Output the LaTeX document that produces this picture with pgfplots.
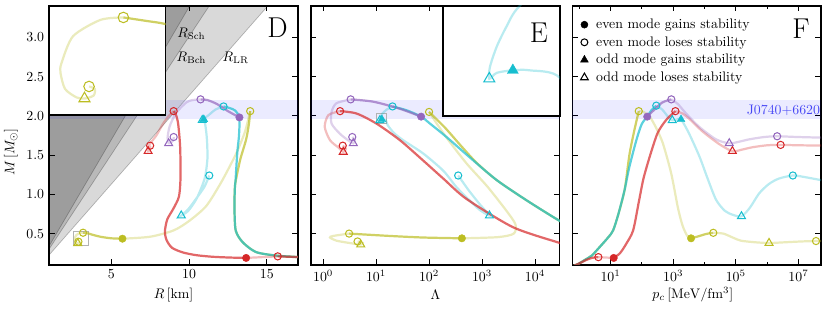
\documentclass[border=0pt]{standalone}
\usepackage{pgfplots}
\pgfplotsset{compat=1.18}
\definecolor{tred}{HTML}{D62728}
\definecolor{tpurple}{HTML}{9467BD}
\definecolor{tcyan}{HTML}{17BECF}
\definecolor{tolive}{HTML}{BCBD22}
\definecolor{jblue}{RGB}{70,70,245}
\tikzset{letter/.style={anchor=north east, inner sep=0pt, font=\huge}}
\pgfplotsset{
  stab/.style={line width=1.6pt, opacity=0.7, smooth, tension=0.45, no markers},
  unst/.style={line width=1.6pt, opacity=0.3, smooth, tension=0.45, no markers},
  eloses/.style={only marks, mark=o, mark size=2.6pt, mark options={line width=0.75pt}},
  egains/.style={only marks, mark=*, mark size=2.7pt, mark options={line width=0.3pt}},
  oloses/.style={only marks, mark=triangle, mark size=3.3pt, mark options={line width=0.75pt}},
  ogains/.style={only marks, mark=triangle*, mark size=3.3pt, mark options={line width=0.3pt}},
  legmark/.style={legend image code/.code={\path (0cm,0cm) (0.52cm,0cm); \draw[##1] plot coordinates {(0.3cm,0cm)};}},
  panel/.style={scale only axis, width=180pt, height=187.3pt, ymin=0.1, ymax=3.4,
    ytick={0.5,1,1.5,2,2.5,3},
    tick align=inside, xtick pos=both, ytick pos=both,
    major tick length=4pt, minor tick length=2.2pt,
    every tick/.style={black, line width=0.6pt},
    axis line style={line width=0.8pt},
    every axis x label/.style={at={(axis description cs:0.5,0)}, anchor=center, yshift=-21.7pt},
  },
  band/.style={fill=blue, fill opacity=0.08, draw=none},
  inset/.style={scale only axis, xtick=\empty, ytick=\empty, axis line style={line width=1pt},
    axis background/.style={fill=white}},
}
\begin{document}
\begin{tikzpicture}
\path[use as bounding box] (-35.43pt,-33.98pt) rectangle (564.7pt,191.6pt);
% ================= D =================
\begin{axis}[panel, name=D, at={(0pt,0pt)}, xmin=1, xmax=17, xtick={5,10,15},
  yticklabels={0.5,1.0,1.5,2.0,2.5,3.0},
  xlabel={$R\,[\mathrm{km}]$}, ylabel={$M\,[M_\odot]$},
  every axis y label/.style={at={(axis description cs:-0.153,0.436)}, rotate=90, anchor=center}]
\addplot[fill=black, fill opacity=0.15, draw=none] coordinates {(0,0) (15.505,3.5) (0,3.5)};
\addplot[fill=black, fill opacity=0.15, draw=none] coordinates {(0,0) (11.627,3.5) (0,3.5)};
\addplot[fill=black, fill opacity=0.15, draw=none] coordinates {(0,0) (10.336,3.5) (0,3.5)};
\addplot[black, opacity=0.25, line width=0.5pt] coordinates {(0,0) (15.505,3.5)};
\addplot[black, opacity=0.25, line width=0.5pt] coordinates {(0,0) (11.627,3.5)};
\addplot[black, opacity=0.25, line width=0.5pt] coordinates {(0,0) (10.336,3.5)};
\addplot[band] coordinates {(0,1.96) (20,1.96) (20,2.20) (0,2.20)};
\node at (axis cs:10.15,3.05) {$R_{\mathrm{Sch}}$};
\node at (axis cs:10.15,2.74) {$R_{\mathrm{Bch}}$};
\node at (axis cs:13.0,2.74) {$R_{\mathrm{LR}}$};
\draw[gray!60, line width=0.5pt] (axis cs:2.54,0.35) rectangle (axis cs:3.56,0.53);
% olive
\addplot[stab, tolive] coordinates {(18,0.19) (17.1,0.20) (15.6,0.22) (14.3,0.265) (13.45,0.39) (13.0,0.54) (12.92,0.84) (12.95,1.1) (13.05,1.22) (13.3,1.45) (13.67,1.70) (13.85,1.9) (13.93,2.06)};
\addplot[unst, tolive] coordinates {(13.93,2.06) (13.6,1.8) (13.1,1.55) (12.6,1.35) (12.0,1.13) (11.1,0.85) (10.0,0.66) (9.0,0.54) (7.5,0.46) (5.72,0.435)};
\addplot[stab, tolive] coordinates {(5.72,0.435) (5.0,0.44) (4.3,0.46) (3.8,0.485) (3.56,0.50) (3.4,0.505) (3.19,0.511)};
\addplot[unst, tolive] coordinates {(3.19,0.511) (2.99,0.507) (2.75,0.48) (2.65,0.436) (2.64,0.42) (2.68,0.393) (2.78,0.379) (2.85,0.377) (2.93,0.382) (2.94,0.393) (2.89,0.397)};
% cyan
\addplot[stab, tcyan] coordinates {(18,0.19) (17.1,0.20) (15.6,0.22) (14.3,0.265) (13.45,0.39) (13.0,0.54) (12.92,0.84) (12.95,1.1) (12.99,1.18) (13.1,1.53) (13.2,1.72) (13.24,1.88) (13.2,2.0) (12.95,2.07) (12.6,2.1) (12.22,2.12)};
\addplot[unst, tcyan] coordinates {(12.22,2.12) (11.7,2.08) (11.2,2.0) (10.9,1.96) (10.85,1.945) (10.9,1.95) (10.95,1.955) (11.05,1.88) (11.15,1.7) (11.18,1.45) (11.0,1.2) (10.5,0.95) (9.95,0.79) (9.5,0.73) (9.95,0.81) (10.55,0.97) (11.0,1.1) (11.3,1.24)};
% red
\addplot[stab, tred] coordinates {(18,0.195) (17.1,0.20) (16.4,0.205) (15.7,0.21)};
\addplot[unst, tred] coordinates {(15.7,0.21) (14.7,0.20) (13.67,0.19)};
\addplot[stab, tred] coordinates {(13.67,0.19) (12.6,0.195) (11.5,0.205) (10.47,0.225) (9.6,0.26) (8.9,0.32) (8.55,0.42) (8.45,0.53) (8.6,0.68) (9.0,0.82) (9.35,0.97) (9.45,1.2) (9.43,1.6) (9.3,1.9) (9.15,2.02) (9.01,2.06)};
\addplot[unst, tred] coordinates {(9.01,2.06) (8.7,2.0) (8.33,1.9) (7.9,1.75) (7.5,1.65) (7.35,1.59) (7.37,1.55) (7.5,1.57) (7.5,1.62)};
% purple
\addplot[stab, tpurple] coordinates {(13.24,1.98) (12.5,2.06) (11.8,2.15) (11.2,2.2) (10.74,2.21)};
\addplot[unst, tpurple] coordinates {(10.74,2.21) (10.2,2.2) (9.82,2.17) (9.18,2.04) (8.76,1.87) (8.62,1.72) (8.69,1.65) (8.85,1.66) (9.0,1.70) (9.01,1.73)};
% markers
\addplot[eloses, tolive] coordinates {(13.93,2.06) (3.19,0.511) (2.89,0.397)};
\addplot[egains, tolive] coordinates {(5.72,0.435)};
\addplot[oloses, tolive] coordinates {(2.85,0.377)};
\addplot[eloses, tcyan] coordinates {(12.22,2.12) (11.3,1.24)};
\addplot[oloses, tcyan] coordinates {(10.85,1.945) (9.5,0.73)};
\addplot[ogains, tcyan] coordinates {(10.95,1.955)};
\addplot[eloses, tred] coordinates {(15.7,0.21) (9.01,2.06) (7.5,1.62)};
\addplot[egains, tred] coordinates {(13.67,0.19)};
\addplot[oloses, tred] coordinates {(7.37,1.55)};
\addplot[egains, tpurple] coordinates {(13.24,1.98)};
\addplot[eloses, tpurple] coordinates {(10.74,2.21) (9.01,1.73)};
\addplot[oloses, tpurple] coordinates {(8.69,1.65)};
\node[letter] at (rel axis cs:0.96,0.953) {D};
\end{axis}
% inset D
\begin{axis}[inset, at={(0pt,108.5pt)}, width=84.4pt, height=78.8pt, xmin=2.54, xmax=3.56, ymin=0.35, ymax=0.53]
\addplot[stab, tolive] coordinates {(4.3,0.46) (3.8,0.485) (3.56,0.50) (3.4,0.505) (3.19,0.511)};
\addplot[unst, tolive] coordinates {(3.19,0.511) (2.99,0.507) (2.75,0.48) (2.65,0.436) (2.64,0.42) (2.68,0.393) (2.78,0.379) (2.85,0.377) (2.93,0.382) (2.94,0.393) (2.89,0.397)};
\addplot[eloses, tolive, mark size=3.8pt] coordinates {(3.19,0.511) (2.89,0.397)};
\addplot[oloses, tolive, mark size=4.6pt] coordinates {(2.85,0.377)};
\end{axis}
% ================= E =================
\begin{axis}[panel, name=E, at={(189.4pt,0pt)}, xmin=-0.23, xmax=4.47, xtick={0,1,2,3,4},
  xticklabels={$10^{0}$,$10^{1}$,$10^{2}$,$10^{3}$,$10^{4}$}, yticklabels={},
  xlabel={$\Lambda$}]
\addplot[band] coordinates {(-1,1.96) (6,1.96) (6,2.20) (-1,2.20)};
\draw[gray!60, line width=0.5pt] (axis cs:0.996,1.90) rectangle (axis cs:1.185,2.03);
% olive
\addplot[stab, tolive] coordinates {(4.8,0.55) (4.47,0.66) (3.85,0.92) (3.28,1.18) (2.9,1.4) (2.6,1.62) (2.3,1.85) (2.0,2.05)};
\addplot[unst, tolive] coordinates {(2.0,2.05) (2.3,1.75) (2.7,1.4) (3.1,1.1) (3.45,0.8) (3.63,0.62) (3.6,0.5) (3.3,0.455) (2.62,0.44)};
\addplot[stab, tolive] coordinates {(2.62,0.44) (1.89,0.45) (1.26,0.47) (0.49,0.50)};
\addplot[unst, tolive] coordinates {(0.49,0.50) (0.19,0.47) (0.13,0.45) (0.25,0.41) (0.5,0.38) (0.71,0.36) (0.75,0.38) (0.65,0.40)};
% cyan
\addplot[stab, tcyan] coordinates {(4.8,0.55) (4.47,0.66) (3.85,0.92) (3.28,1.18) (2.77,1.47) (2.33,1.73) (2.02,1.90) (1.85,1.99) (1.58,2.07) (1.31,2.12)};
\addplot[unst, tcyan] coordinates {(1.31,2.12) (1.2,2.08) (1.12,2.03) (1.099,2.006) (1.083,1.982) (1.072,1.958) (1.071,1.944) (1.083,1.951) (1.109,1.954) (1.136,1.954) (1.185,1.945) (1.22,1.88) (1.34,1.78) (1.51,1.69) (1.89,1.52) (2.27,1.30) (2.52,1.09) (2.77,0.92) (2.96,0.8) (3.14,0.73) (2.95,0.88) (2.75,1.05) (2.55,1.24)};
% red
\addplot[stab, tred] coordinates {(4.8,0.31) (4.47,0.38) (3.59,0.58) (2.71,0.94) (2.27,1.20) (1.89,1.43) (1.45,1.69) (1.01,1.90) (0.63,2.03) (0.32,2.06)};
\addplot[unst, tred] coordinates {(0.32,2.06) (0.1,2.01) (0.03,1.86) (0.13,1.69) (0.3,1.59) (0.38,1.54) (0.43,1.58) (0.37,1.62)};
% purple
\addplot[stab, tpurple] coordinates {(1.85,1.99) (1.45,2.09) (0.95,2.18) (0.52,2.21)};
\addplot[unst, tpurple] coordinates {(0.52,2.21) (0.25,2.16) (0.16,2.05) (0.16,1.90) (0.32,1.77) (0.47,1.69) (0.57,1.65) (0.6,1.69) (0.55,1.73)};
% markers
\addplot[eloses, tolive] coordinates {(2.0,2.05) (0.49,0.50) (0.65,0.40)};
\addplot[egains, tolive] coordinates {(2.62,0.44)};
\addplot[oloses, tolive] coordinates {(0.71,0.36)};
\addplot[eloses, tcyan] coordinates {(1.31,2.12) (2.55,1.24)};
\addplot[oloses, tcyan] coordinates {(1.071,1.944) (3.14,0.73)};
\addplot[ogains, tcyan] coordinates {(1.109,1.954)};
\addplot[eloses, tred] coordinates {(0.32,2.06) (0.37,1.62)};
\addplot[oloses, tred] coordinates {(0.38,1.54)};
\addplot[egains, tpurple] coordinates {(1.85,1.99)};
\addplot[eloses, tpurple] coordinates {(0.52,2.21) (0.55,1.73)};
\addplot[oloses, tpurple] coordinates {(0.57,1.65)};
\end{axis}
% inset E
\begin{axis}[inset, at={(284.8pt,107.7pt)}, width=84.6pt, height=79.6pt, xmin=0.996, xmax=1.185, ymin=1.90, ymax=2.03]
\addplot[unst, tcyan] coordinates {(1.31,2.12) (1.2,2.08) (1.12,2.03) (1.099,2.006) (1.083,1.982) (1.072,1.958) (1.071,1.944) (1.083,1.951) (1.109,1.954) (1.136,1.954) (1.185,1.945) (1.22,1.88)};
\addplot[oloses, tcyan, mark size=4.6pt] coordinates {(1.071,1.944)};
\addplot[ogains, tcyan, mark size=4.6pt] coordinates {(1.109,1.954)};
\end{axis}
\node[letter] at ([xshift=-8.5pt,yshift=-12pt]E.north east) {E};
% ================= F =================
\begin{axis}[panel, name=F, at={(378.2pt,0pt)}, xmin=-0.23, xmax=7.72, xtick={1,3,5,7}, minor xtick={0,2,4,6},
  xticklabels={$10^{1}$,$10^{3}$,$10^{5}$,$10^{7}$}, yticklabels={},
  xlabel={$p_c\,[\mathrm{MeV/fm^3}]$},
  every axis x label/.style={at={(axis description cs:0.485,0)}, anchor=center, yshift=-21.7pt},
  legend style={at={(axis description cs:0.0,0.962)}, anchor=north west, draw=none, fill=none,
    font=\normalsize, row sep=0.3pt, inner sep=0pt},
  legend cell align=left]
\addlegendimage{legmark, black, mark=*, mark size=2.5pt}
\addlegendimage{legmark, black, mark=o, mark size=2.5pt, mark options={line width=0.75pt}}
\addlegendimage{legmark, black, mark=triangle*, mark size=3.2pt}
\addlegendimage{legmark, black, mark=triangle, mark size=3.2pt, mark options={line width=0.75pt}}
\legend{even mode gains stability, even mode loses stability, odd mode gains stability, odd mode loses stability}
\addplot[band] coordinates {(-1,1.96) (9,1.96) (9,2.20) (-1,2.20)};
% olive
\addplot[stab, tolive] coordinates {(-0.5,0.05) (-0.23,0.08) (0.0,0.12) (0.2,0.17) (0.4,0.22) (0.61,0.31) (0.92,0.45) (1.08,0.54) (1.25,0.75) (1.45,1.06) (1.6,1.5) (1.75,1.8) (1.9,2.06)};
\addplot[unst, tolive] coordinates {(1.9,2.06) (2.05,2.05) (2.25,1.99) (2.45,1.85) (2.67,1.65) (2.94,1.26) (3.15,0.83) (3.3,0.6) (3.45,0.47) (3.57,0.44)};
\addplot[stab, tolive] coordinates {(3.57,0.44) (3.8,0.465) (4.05,0.495) (4.28,0.51)};
\addplot[unst, tolive] coordinates {(4.28,0.51) (4.6,0.50) (4.9,0.45) (5.16,0.41) (5.6,0.39) (6.06,0.38) (6.6,0.39) (7.1,0.40) (7.56,0.405) (8,0.405)};
% cyan
\addplot[stab, tcyan] coordinates {(-0.5,0.05) (-0.23,0.08) (0.0,0.12) (0.2,0.17) (0.4,0.22) (0.61,0.31) (0.92,0.45) (1.08,0.54) (1.25,0.75) (1.45,1.06) (1.6,1.35) (1.83,1.70) (2.0,1.90) (2.17,1.99) (2.3,2.07) (2.46,2.13)};
\addplot[unst, tcyan] coordinates {(2.46,2.13) (2.65,2.08) (2.85,1.98) (2.97,1.944) (3.1,1.95) (3.25,1.954) (3.5,1.78) (3.84,1.48) (4.1,1.2) (4.37,0.93) (4.65,0.79) (4.9,0.74) (5.18,0.72) (5.45,0.83) (5.74,1.01) (6.05,1.13) (6.37,1.2) (6.82,1.24) (7.2,1.22) (8,1.16)};
% red
\addplot[stab, tred] coordinates {(-0.5,0.05) (-0.23,0.08) (0.0,0.12) (0.2,0.16) (0.4,0.19) (0.61,0.20)};
\addplot[unst, tred] coordinates {(0.61,0.20) (0.85,0.195) (1.1,0.19)};
\addplot[stab, tred] coordinates {(1.1,0.19) (1.3,0.25) (1.5,0.37) (1.72,0.54) (1.9,0.9) (2.05,1.2) (2.25,1.48) (2.5,1.78) (2.78,1.95) (3.07,2.06)};
\addplot[unst, tred] coordinates {(3.07,2.06) (3.3,2.03) (3.52,1.96) (3.94,1.80) (4.47,1.64) (4.89,1.55) (5.2,1.57) (5.53,1.60) (6.0,1.625) (6.43,1.63) (7.0,1.625) (8,1.62)};
% purple
\addplot[stab, tpurple] coordinates {(2.17,1.99) (2.4,2.08) (2.65,2.17) (2.94,2.21)};
\addplot[unst, tpurple] coordinates {(2.94,2.21) (3.15,2.15) (3.41,2.03) (3.83,1.86) (4.37,1.70) (4.79,1.65) (5.1,1.67) (5.42,1.70) (5.9,1.73) (6.32,1.74) (7.0,1.73) (8,1.72)};
% markers
\addplot[eloses, tolive] coordinates {(1.9,2.06) (4.28,0.51) (7.56,0.405)};
\addplot[egains, tolive] coordinates {(3.57,0.44)};
\addplot[oloses, tolive] coordinates {(6.06,0.38)};
\addplot[eloses, tcyan] coordinates {(2.46,2.13) (6.82,1.24)};
\addplot[oloses, tcyan] coordinates {(2.97,1.944) (5.18,0.72)};
\addplot[ogains, tcyan] coordinates {(3.25,1.954)};
\addplot[eloses, tred] coordinates {(0.61,0.20) (3.07,2.06) (6.43,1.63)};
\addplot[egains, tred] coordinates {(1.1,0.19)};
\addplot[oloses, tred] coordinates {(4.89,1.55)};
\addplot[egains, tpurple] coordinates {(2.17,1.99)};
\addplot[eloses, tpurple] coordinates {(2.94,2.21) (6.32,1.74)};
\addplot[oloses, tpurple] coordinates {(4.79,1.65)};
\node[anchor=east, inner sep=0.5pt, text=jblue] at (rel axis cs:1,0.597) {J0740+6620};
\node[letter] at (rel axis cs:0.955,0.95) {F};
\end{axis}
\end{tikzpicture}
\end{document}
